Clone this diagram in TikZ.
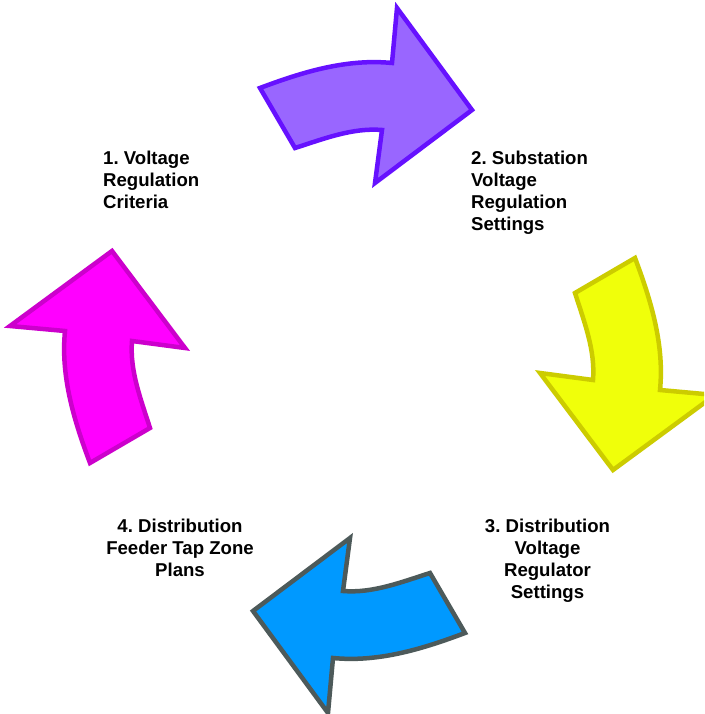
\documentclass[tikz,border=0pt]{standalone}
\usepackage{fontspec}
\setmainfont{Liberation Sans}
\frenchspacing
\definecolor{violetfill}{HTML}{9966FF}
\definecolor{violetline}{HTML}{6611FF}
\definecolor{lemonfill}{HTML}{F0FF0A}
\definecolor{lemonline}{HTML}{CCCC00}
\definecolor{skyfill}{HTML}{0099FF}
\definecolor{skyline}{HTML}{4D5A5A}
\definecolor{pinkfill}{HTML}{FF00FF}
\definecolor{pinkline}{HTML}{CC00CC}
% one curved arrow of the cycle, given relative to the centre of the ring
\newcommand\cyclearrowpath[1]{%
  \filldraw[cyclearrow,#1]
    (-102.5,272.5) .. controls (-59.9,288.5) and (-15.8,302.0) .. (29.5,297.5)
    -- (34.5,352.5) -- (109.5,250.5) -- (12.5,177.5) -- (19.5,230.5)
    .. controls (-10.1,233.0) and (-39.2,221.5) .. (-67.5,212.5) -- cycle;}
\begin{document}
\begin{tikzpicture}[x=1pt,y=1pt,
  cyclearrow/.style={line width=4.5pt, line join=miter},
  steplabel/.style={font=\fontsize{18.6}{22}\selectfont\bfseries, inner sep=0pt}]
\useasboundingbox (0,0) rectangle (704,714);
\clip (0,0) rectangle (704,714);
\fill[white] (0,0) rectangle (704,714);

\begin{scope}[shift={(362.5,353.5)}]
  \cyclearrowpath{fill=violetfill, draw=violetline}
\end{scope}
\begin{scope}[shift={(362.5,353.5)}, rotate=-90]
  \cyclearrowpath{fill=lemonfill, draw=lemonline}
\end{scope}
\begin{scope}[shift={(362.5,353.5)}, rotate=180]
  \cyclearrowpath{fill=skyfill, draw=skyline}
\end{scope}
\begin{scope}[shift={(362.5,353.5)}, rotate=90]
  \cyclearrowpath{fill=pinkfill, draw=pinkline}
\end{scope}

\node[steplabel, anchor=north west, align=left] (s1) at (103,563.5)
  {1. Voltage\\Regulation\\Criteria};
\node[steplabel, anchor=north west, align=left] (s2) at (471,563.5)
  {2. Substation\\Voltage\\Regulation\\Settings};
\node[steplabel, anchor=north, align=center] (s3) at (547.5,195.5)
  {3. Distribution\\Voltage\\Regulator\\Settings};
\node[steplabel, anchor=north, align=center] (s4) at (180,195.5)
  {4. Distribution\\Feeder Tap Zone\\Plans};
\end{tikzpicture}
\end{document}
